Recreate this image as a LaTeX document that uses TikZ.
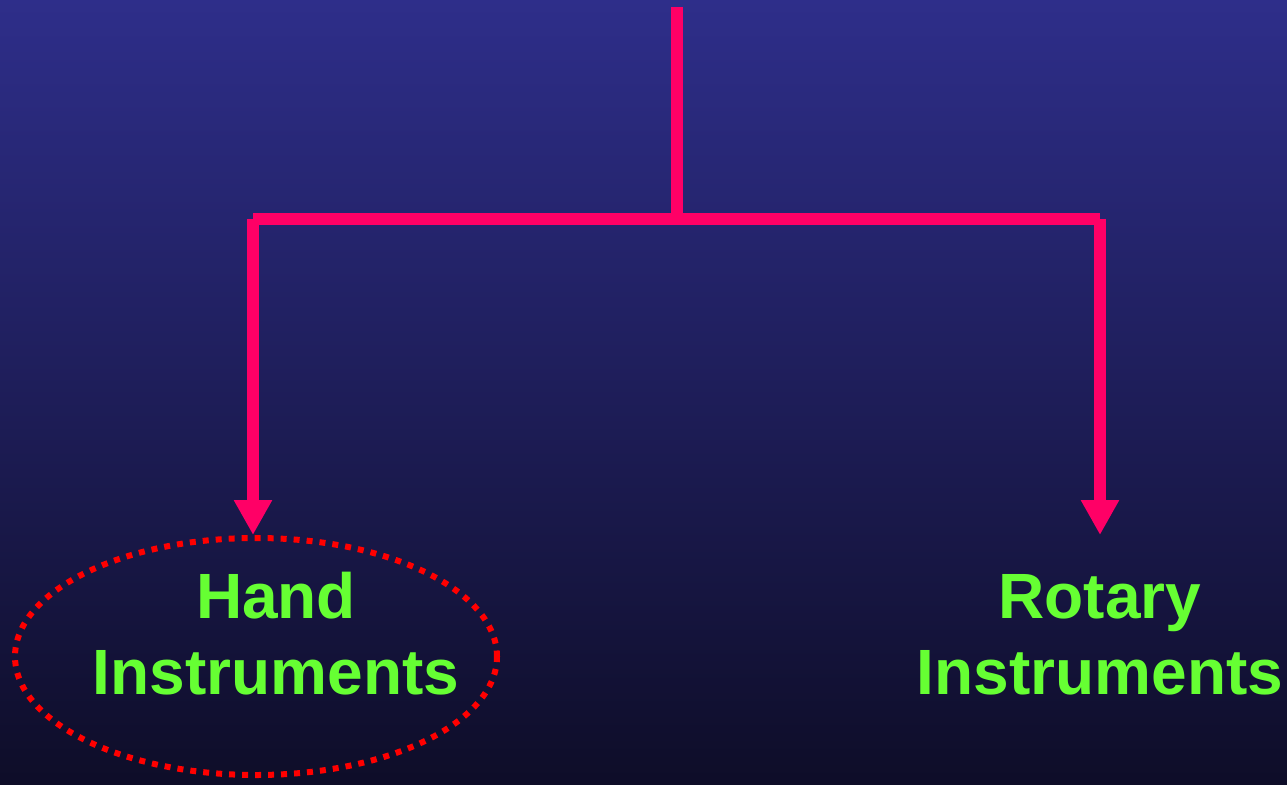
\documentclass[tikz,border=0pt]{standalone}
\usepackage{fontspec}
\setmainfont{Liberation Sans}
\usetikzlibrary{arrows.meta,shapes.geometric}
\definecolor{bgtop}{RGB}{46,46,138}
\definecolor{bgbot}{RGB}{14,13,40}
\definecolor{pinkline}{RGB}{255,0,102}
\definecolor{labgreen}{RGB}{102,255,51}
\definecolor{dotred}{RGB}{255,0,0}
\tikzset{
  conn/.style={draw=pinkline, line width=12pt, line cap=butt},
  arr/.style={conn, -{Triangle[width=36pt,length=35pt]}},
  lab/.style={text=labgreen, font=\fontsize{64}{76}\selectfont\bfseries, inner sep=0pt, anchor=base},
  ring/.style={ellipse, draw=dotred, line width=6pt, dash pattern=on 6pt off 7pt, minimum width=482pt, minimum height=237pt, inner sep=0pt}
}
\begin{document}
\begin{tikzpicture}[x=1pt,y=-1pt]
\shade[top color=bgtop, bottom color=bgbot] (0,0) rectangle (1287,784);
\useasboundingbox (0,0) rectangle (1287,784);
\coordinate (top) at (676.5,7.5);
\coordinate (junc) at (676.5,218.7);
\coordinate (lc) at (253,218.7);
\coordinate (rc) at (1100,218.7);
\coordinate (ltip) at (253,535);
\coordinate (rtip) at (1100,535);
\draw[conn] (top) -- (junc);
\draw[conn] (lc) -- (rc);
\draw[arr] (lc) -- (ltip);
\draw[arr] (rc) -- (rtip);
\node[ring] (ring) at (256,656.5) {};
\node[lab] (hand1) at (276,618) {Hand};
\node[lab] (hand2) at (276,694) {Instruments};
\node[lab] (rot1) at (1100,618) {Rotary};
\node[lab] (rot2) at (1100,694) {Instruments};
\end{tikzpicture}
\end{document}
